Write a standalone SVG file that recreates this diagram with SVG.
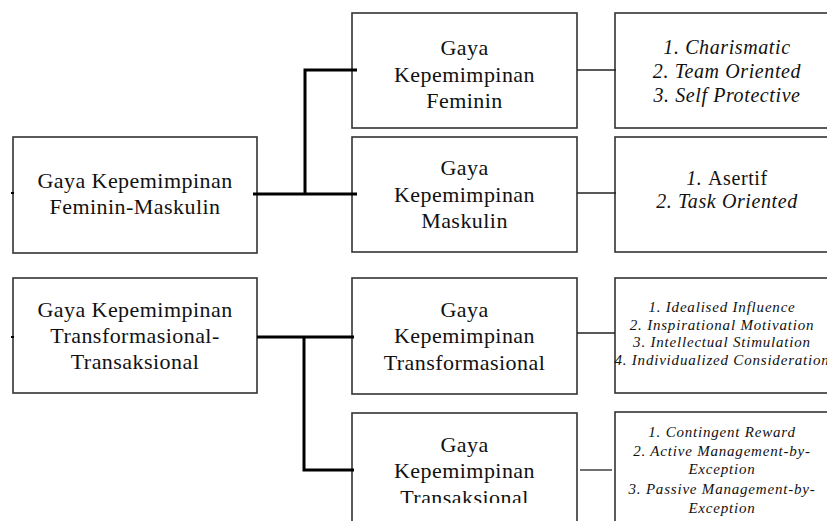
<svg xmlns="http://www.w3.org/2000/svg" width="827" height="521" viewBox="0 0 827 521">
<style>
.box{fill:#fff;stroke:#333;stroke-width:1.6}
.t,.r,.s{font-family:'Liberation Serif','Times New Roman',Times,'DejaVu Serif',serif;fill:#111;text-anchor:middle}
.t{font-size:22px;letter-spacing:0.45px}
.r{font-size:20px;font-style:italic;letter-spacing:0.6px}
.s{font-size:15px;font-style:italic;letter-spacing:0.8px}
.thick{stroke:#000;stroke-width:3;fill:none}
.thin{stroke:#222;stroke-width:1.3;fill:none}
</style>
<defs>
<clipPath id="clipT"><rect x="0" y="0" width="827" height="503"/></clipPath>
</defs>
<rect width="827" height="521" fill="#fff"/>

<g id="node-feminin-maskulin">
<rect class="box" x="13" y="137" width="244" height="116"/>
<text class="t" x="135" y="188">Gaya Kepemimpinan</text>
<text class="t" x="135" y="214">Feminin-Maskulin</text>
</g>

<g id="node-transformasional-transaksional">
<rect class="box" x="13" y="278" width="244" height="115"/>
<text class="t" x="135" y="317">Gaya Kepemimpinan</text>
<text class="t" x="135" y="343">Transformasional-</text>
<text class="t" x="135" y="369">Transaksional</text>
</g>

<g id="node-feminin">
<rect class="box" x="352" y="13" width="225" height="115"/>
<text class="t" x="464.5" y="55">Gaya</text>
<text class="t" x="464.5" y="82">Kepemimpinan</text>
<text class="t" x="464.5" y="108">Feminin</text>
</g>

<g id="node-maskulin">
<rect class="box" x="352" y="137" width="225" height="115"/>
<text class="t" x="464.5" y="175">Gaya</text>
<text class="t" x="464.5" y="202">Kepemimpinan</text>
<text class="t" x="464.5" y="228">Maskulin</text>
</g>

<g id="node-transformasional">
<rect class="box" x="352" y="278" width="225" height="116"/>
<text class="t" x="464.5" y="317">Gaya</text>
<text class="t" x="464.5" y="343">Kepemimpinan</text>
<text class="t" x="464.5" y="370">Transformasional</text>
</g>

<g id="node-transaksional">
<rect class="box" x="352" y="413" width="225" height="130"/>
<text class="t" x="464.5" y="452">Gaya</text>
<text class="t" x="464.5" y="478">Kepemimpinan</text>
<text class="t" x="464.5" y="505" clip-path="url(#clipT)">Transaksional</text>
</g>

<g id="node-feminin-items">
<rect class="box" x="615" y="13" width="230" height="115"/>
<text class="r" x="727" y="54">1. Charismatic</text>
<text class="r" x="727" y="78">2. Team Oriented</text>
<text class="r" x="727" y="102">3. Self Protective</text>
</g>

<g id="node-maskulin-items">
<rect class="box" x="615" y="137" width="230" height="115"/>
<text class="r" x="727" y="185">1. <tspan font-style="normal">Asertif</tspan></text>
<text class="r" x="727" y="208">2. Task Oriented</text>
</g>

<g id="node-transformasional-items">
<rect class="box" x="615" y="278" width="230" height="115"/>
<text class="s" x="722" y="312">1. Idealised Influence</text>
<text class="s" x="722" y="329.5">2. Inspirational Motivation</text>
<text class="s" x="722" y="347">3. Intellectual Stimulation</text>
<text class="s" x="722" y="364.5">4. Individualized Consideration</text>
</g>

<g id="node-transaksional-items">
<rect class="box" x="615" y="412" width="230" height="130"/>
<text class="s" x="722" y="437">1. Contingent Reward</text>
<text class="s" x="722" y="455.5">2. Active Management-by-</text>
<text class="s" x="722" y="474">Exception</text>
<text class="s" x="722" y="493.5">3. Passive Management-by-</text>
<text class="s" x="722" y="513">Exception</text>
</g>

<g id="connectors">
<path class="thick" d="M253 194 H357 M305 194 V70 H357"/>
<path class="thick" d="M257 337 H354 M304 337 V470 H354"/>
<line x1="11" y1="193" x2="14" y2="193" stroke="#000" stroke-width="2"/>
<line x1="11" y1="337" x2="14" y2="337" stroke="#000" stroke-width="2"/>
<line class="thin" x1="577" y1="70" x2="616" y2="70"/>
<line class="thin" x1="577" y1="193" x2="616" y2="193"/>
<line class="thin" x1="577" y1="333" x2="615" y2="333" stroke="#555"/>
<line class="thin" x1="580" y1="470" x2="612" y2="470"/>
</g>
</svg>
